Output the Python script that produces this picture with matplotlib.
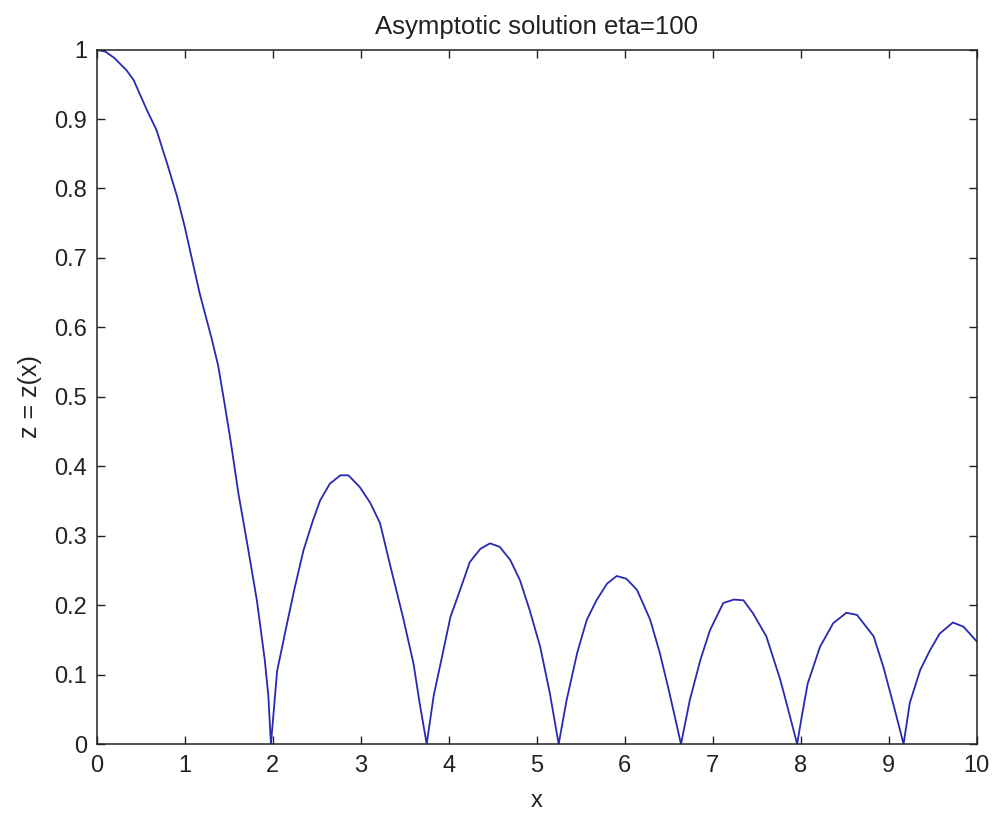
import numpy as np
import matplotlib.pyplot as plt

# values
x_vals = [0.0, 0.1, 0.2, 0.34, 0.42, 0.57, 0.68, 0.80, 0.91, 1.0, 1.06, 1.17, 1.31, 1.38,
          1.44, 1.52, 1.61, 1.71, 1.82, 1.91, 1.95, 1.98,
          2.05, 2.16, 2.25, 2.35, 2.46, 2.54, 2.65, 2.77, 2.86, 2.99, 3.11, 3.22, 3.33,
          3.48, 3.60, 3.67, 3.75,
          3.83, 3.94, 4.02, 4.13, 4.24, 4.36, 4.47, 4.58, 4.70, 4.81, 4.92, 5.04, 5.15, 5.25,
          5.34, 5.46, 5.57, 5.68, 5.80, 5.91, 6.02, 6.14, 6.29, 6.40, 6.51, 6.64,
          6.74, 6.86, 6.97, 7.12, 7.24, 7.35, 7.46, 7.61, 7.77, 7.87, 7.96,
          8.02, 8.08, 8.22, 8.37, 8.52, 8.64, 8.83, 8.94, 9.05, 9.17,
          9.24, 9.36, 9.47, 9.58, 9.73, 9.85, 10.0]
z_vals = [1.0, 0.997, 0.988, 0.970, 0.956, 0.913, 0.884, 0.836, 0.790, 0.745, 0.711, 0.649, 0.582, 0.545,
          0.500, 0.438, 0.361, 0.289, 0.207, 0.121, 0.07, 0.0,
          0.105, 0.172, 0.225, 0.279, 0.323, 0.351, 0.375, 0.387, 0.387, 0.370, 0.347, 0.318, 0.260,
          0.183, 0.116, 0.059, 0.0,
          0.07, 0.135, 0.183, 0.222, 0.262, 0.281, 0.289, 0.284, 0.265, 0.236, 0.193, 0.140, 0.073, 0.0,
          0.063, 0.131, 0.179, 0.207, 0.231, 0.242, 0.238, 0.222, 0.179, 0.131, 0.073, 0.0,
          0.063, 0.121, 0.164, 0.203, 0.208, 0.207, 0.188, 0.155, 0.092, 0.044, 0.0,
          0.045, 0.087, 0.140, 0.174, 0.189, 0.186, 0.155, 0.111, 0.059, 0.0,
          0.059, 0.107, 0.135, 0.159, 0.175, 0.169, 0.148]

x_ticks = list(range(0, 11))
y_ticks = [0, 0.1, 0.2, 0.3, 0.4, 0.5, 0.6, 0.7, 0.8, 0.9, 1]
y_tick_labels = ['0', '0.1', '0.2', '0.3', '0.4', '0.5', '0.6', '0.7', '0.8', '0.9', '1']

plt.rcParams['font.family'] = ['Liberation Sans', 'DejaVu Sans']

fig = plt.figure(figsize=(9.92, 8.16), dpi=100)
ax = fig.add_axes([0.0975, 0.0882, 0.887, 0.851])

ax.plot(x_vals, z_vals, color='#2828b4', lw=1.3)

ax.set_xlim(0, 10)
ax.set_ylim(0, 1)
ax.set_xticks(x_ticks)
ax.set_xticklabels([str(v) for v in x_ticks])
ax.set_yticks(y_ticks)
ax.set_yticklabels(y_tick_labels)
ax.tick_params(direction='in', length=6, width=1, top=True, right=True,
               labelsize=17, colors='#222222')
ax.tick_params(axis='x', pad=8)
ax.tick_params(axis='y', pad=7)
for s in ax.spines.values():
    s.set_linewidth(1.1)
    s.set_color('#222222')

ax.set_title('Asymptotic solution eta=100', fontsize=18.5, pad=11, color='#222222')
ax.set_xlabel('x', fontsize=17, labelpad=9, color='#222222')
ax.set_ylabel('z = z(x)', fontsize=18, labelpad=9, color='#222222')

fig.savefig('out.png', dpi=100)
